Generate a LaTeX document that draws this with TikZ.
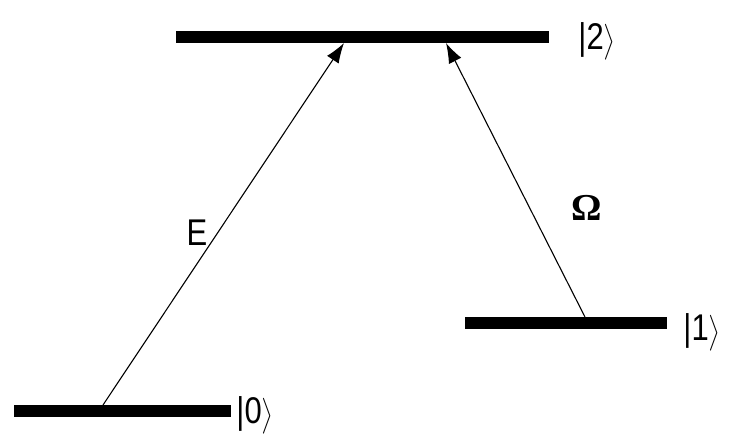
\documentclass[tikz,border=0pt]{standalone}
\usepackage{amsmath}
\usepackage{fontspec}
\setmainfont{Liberation Sans}
\newfontfamily\symfont{Liberation Serif}
\usetikzlibrary{arrows.meta}
\newcommand{\ketlbl}[1]{\scalebox{1}[1.2]{|#1\smash{$\big\rangle$}}}
\begin{document}
\begin{tikzpicture}[x=1pt,y=-1pt,
  level/.style={line width=12pt},
  trans/.style={line width=1.1pt,-{Latex[length=20pt,width=14pt]}},
  lbl/.style={font=\fontsize{31}{36}\selectfont,inner sep=0pt}]
\useasboundingbox (0,0) rectangle (747,440);
% levels
\coordinate (l2a) at (176,37); \coordinate (l2b) at (549,37);
\coordinate (l1a) at (465,323); \coordinate (l1b) at (667,323);
\coordinate (l0a) at (14,411); \coordinate (l0b) at (231,411);
\draw[level] (l2a) -- (l2b);
\draw[level] (l1a) -- (l1b);
\draw[level] (l0a) -- (l0b);
% transition end points
\coordinate (e0) at (103,405);
\coordinate (e2) at (344,43);
\coordinate (o1) at (585,317);
\coordinate (o2) at (446,43);
\draw[trans] (e0) -- (e2);
\draw[trans] (o1) -- (o2);
% labels
\node[lbl] (k2) at (597,40) {\ketlbl{2}};
\node[lbl] (k1) at (702,331) {\ketlbl{1}};
\node[lbl] (k0) at (255,414) {\ketlbl{0}};
\node[lbl] (E) at (197,233) {\scalebox{1}[1.2]{E}};
\node[lbl,font=\fontsize{38}{42}\selectfont] (Om) at (587,208) {\symfont\bfseries Ω};
\end{tikzpicture}
\end{document}
